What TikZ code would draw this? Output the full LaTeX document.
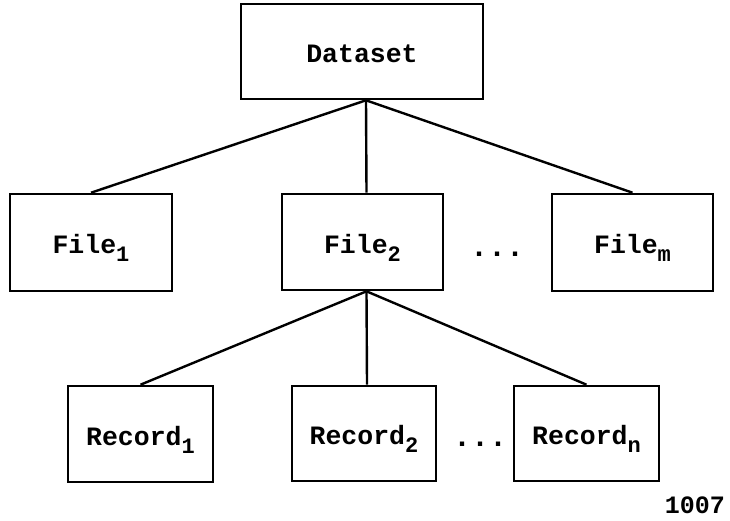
\documentclass[tikz,border=0pt]{standalone}
\usepackage{fontspec}
\setmainfont{Liberation Mono}
\newcommand\lowidx[1]{\raisebox{-8pt}{\fontsize{22}{22}\selectfont #1}}
\tikzset{
  box/.style={draw, line width=2.6pt, rectangle, inner sep=0pt,
    text height=22pt, text depth=0pt,
    font=\fontsize{26.5}{26.5}\selectfont\bfseries},
  link/.style={line width=2.4pt},
  gap/.style={font=\fontsize{30}{30}\selectfont\bfseries, anchor=base, inner sep=0pt},
}
\begin{document}
\begin{tikzpicture}[x=1pt, y=-1pt]
\useasboundingbox (0,0) rectangle (730,520);

% top level
\node[box, minimum width=242pt, minimum height=95pt] (ds) at (362,51.5) {Dataset};

% files
\node[box, minimum width=162pt, minimum height=97pt] (f1) at (91,242.5) {File\lowidx{1}};
\node[box, minimum width=161pt, minimum height=96pt] (f2) at (362.5,242) {File\lowidx{2}};
\node[box, minimum width=161pt, minimum height=97pt] (fm) at (632.5,242.5) {File\lowidx{m}};
\node[gap] (fdots) at (497,256) {...};

% records
\node[box, minimum width=145pt, minimum height=96pt] (r1) at (140.5,434) {Record\lowidx{1}};
\node[box, minimum width=144pt, minimum height=95pt] (r2) at (364,433.5) {Record\lowidx{2}};
\node[box, minimum width=145pt, minimum height=95pt] (rn) at (586.5,433.5) {Record\lowidx{n}};
\node[gap] (rdots) at (480,446) {...};

% figure number
\node[font=\fontsize{25}{25}\selectfont\bfseries, anchor=base east, inner sep=0pt] (num) at (725,513) {1007};

% connectors
\coordinate (dsb) at ([xshift=4pt]ds.south);
\draw[link] (dsb) -- (f1.north);
\draw[link] (dsb) -- ([xshift=4pt]f2.north);
\draw[link] (dsb) -- (fm.north);

\coordinate (f2b) at ([xshift=4pt]f2.south);
\draw[link] (f2b) -- (r1.north);
\draw[link] (f2b) -- ([xshift=3pt]r2.north);
\draw[link] (f2b) -- (rn.north);
\end{tikzpicture}
\end{document}
